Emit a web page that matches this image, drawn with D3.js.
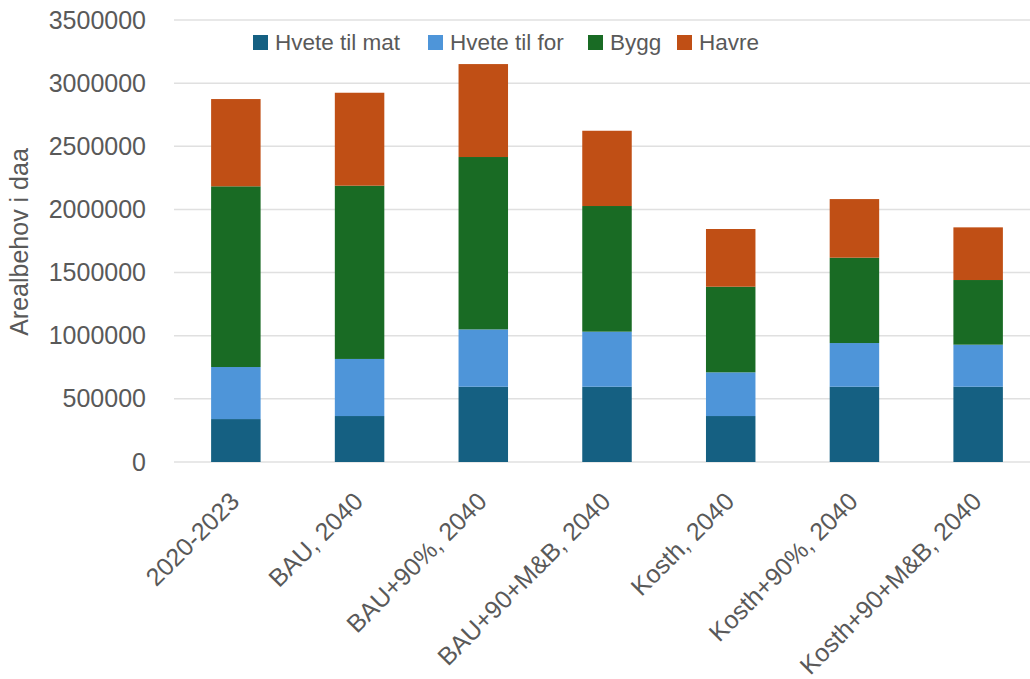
<!DOCTYPE html>
<html>
<head>
<meta charset="utf-8">
<script src="https://cdn.jsdelivr.net/npm/d3@7/dist/d3.min.js"></script>
<style>
  html, body { margin: 0; padding: 0; background: #fff; }
  svg { display: block; font-family: "Liberation Sans", Arial, sans-serif; }
</style>
</head>
<body>
<svg id="chart" width="1030" height="679"></svg>
<script>
// Scenarios along the x axis
const categories = [
  "2020-2023",
  "BAU, 2040",
  "BAU+90%, 2040",
  "BAU+90+M&B, 2040",
  "Kosth, 2040",
  "Kosth+90%, 2040",
  "Kosth+90+M&B, 2040"
];

// Area need (daa) per crop, one value per scenario
const hveteTilMat = [340000, 364000, 596000, 596000, 364000, 596000, 596000];
const hveteTilFor = [412000, 452000, 454000, 436000, 346000, 346000, 333000];
const bygg        = [1431000, 1372000, 1365000, 995000, 678000, 676000, 512000];
const havre       = [691000, 736000, 736000, 596000, 457000, 464000, 417000];

const seriesNames = ["Hvete til mat", "Hvete til for", "Bygg", "Havre"];
const seriesColors = ["#156082", "#4e95d9", "#196b24", "#c04f15"];

const yTicks = [0, 500000, 1000000, 1500000, 2000000, 2500000, 3000000, 3500000];
const yTitle = "Arealbehov i daa";

const svg = d3.select("#chart");
const textColor = "#595959";

const x = d3.scaleBand()
  .domain(categories)
  .range([174, 1040])
  .paddingInner(0.6)
  .paddingOuter(0.3);

const y = d3.scaleLinear()
  .domain([0, 3500000])
  .range([462, 20]);

// Rows for the stack
const seriesValues = [hveteTilMat, hveteTilFor, bygg, havre];
const rows = categories.map((c, i) => {
  const r = { cat: c };
  seriesNames.forEach((s, k) => { r[s] = seriesValues[k][i]; });
  return r;
});
const stacked = d3.stack().keys(seriesNames)(rows);

// Gridlines
svg.append("g")
  .selectAll("line")
  .data(yTicks)
  .join("line")
  .attr("x1", 174)
  .attr("x2", 1030)
  .attr("y1", d => y(d))
  .attr("y2", d => y(d))
  .attr("stroke", "#e0e0e0")
  .attr("stroke-width", 1.5);

// Y axis labels
const yAxis = d3.axisLeft(y)
  .tickValues(yTicks)
  .tickFormat(d3.format("d"))
  .tickSize(0)
  .tickPadding(28);
const yg = svg.append("g")
  .attr("transform", `translate(174,0)`)
  .call(yAxis);
yg.select(".domain").remove();
yg.selectAll("text")
  .attr("fill", textColor)
  .attr("font-size", 25)
  .attr("font-family", "Liberation Sans, Arial, sans-serif");

// Bars
svg.append("g")
  .selectAll("g")
  .data(stacked)
  .join("g")
  .attr("fill", (d, i) => seriesColors[i])
  .selectAll("rect")
  .data(d => d)
  .join("rect")
  .attr("x", d => x(d.data.cat))
  .attr("width", x.bandwidth())
  .attr("y", d => y(d[1]))
  .attr("height", d => y(d[0]) - y(d[1]));

// Category labels, rotated
const xAxis = d3.axisBottom(x).tickSize(0).tickPadding(0);
const xg = svg.append("g")
  .attr("transform", "translate(0,462)")
  .call(xAxis);
xg.select(".domain").remove();
xg.selectAll("text")
  .attr("fill", textColor)
  .attr("font-size", 25)
  .attr("font-family", "Liberation Sans, Arial, sans-serif")
  .attr("text-anchor", "end")
  .attr("dy", null)
  .attr("y", 0)
  .attr("transform", "translate(5,41) rotate(-45)");

// Y axis title
svg.append("text")
  .attr("transform", "translate(28,242) rotate(-90)")
  .attr("text-anchor", "middle")
  .attr("fill", textColor)
  .attr("font-size", 25)
  .text(yTitle);

// Legend
const legendX = [253, 428, 588, 677];
const legend = svg.append("g")
  .selectAll("g")
  .data(seriesNames)
  .join("g")
  .attr("transform", (d, i) => `translate(${legendX[i]},0)`);
legend.append("rect")
  .attr("x", 0)
  .attr("y", 35)
  .attr("width", 15)
  .attr("height", 15)
  .attr("fill", (d, i) => seriesColors[i]);
legend.append("text")
  .attr("x", 22)
  .attr("y", 50)
  .attr("fill", textColor)
  .attr("font-size", 22.5)
  .text(d => d);
</script>
</body>
</html>
